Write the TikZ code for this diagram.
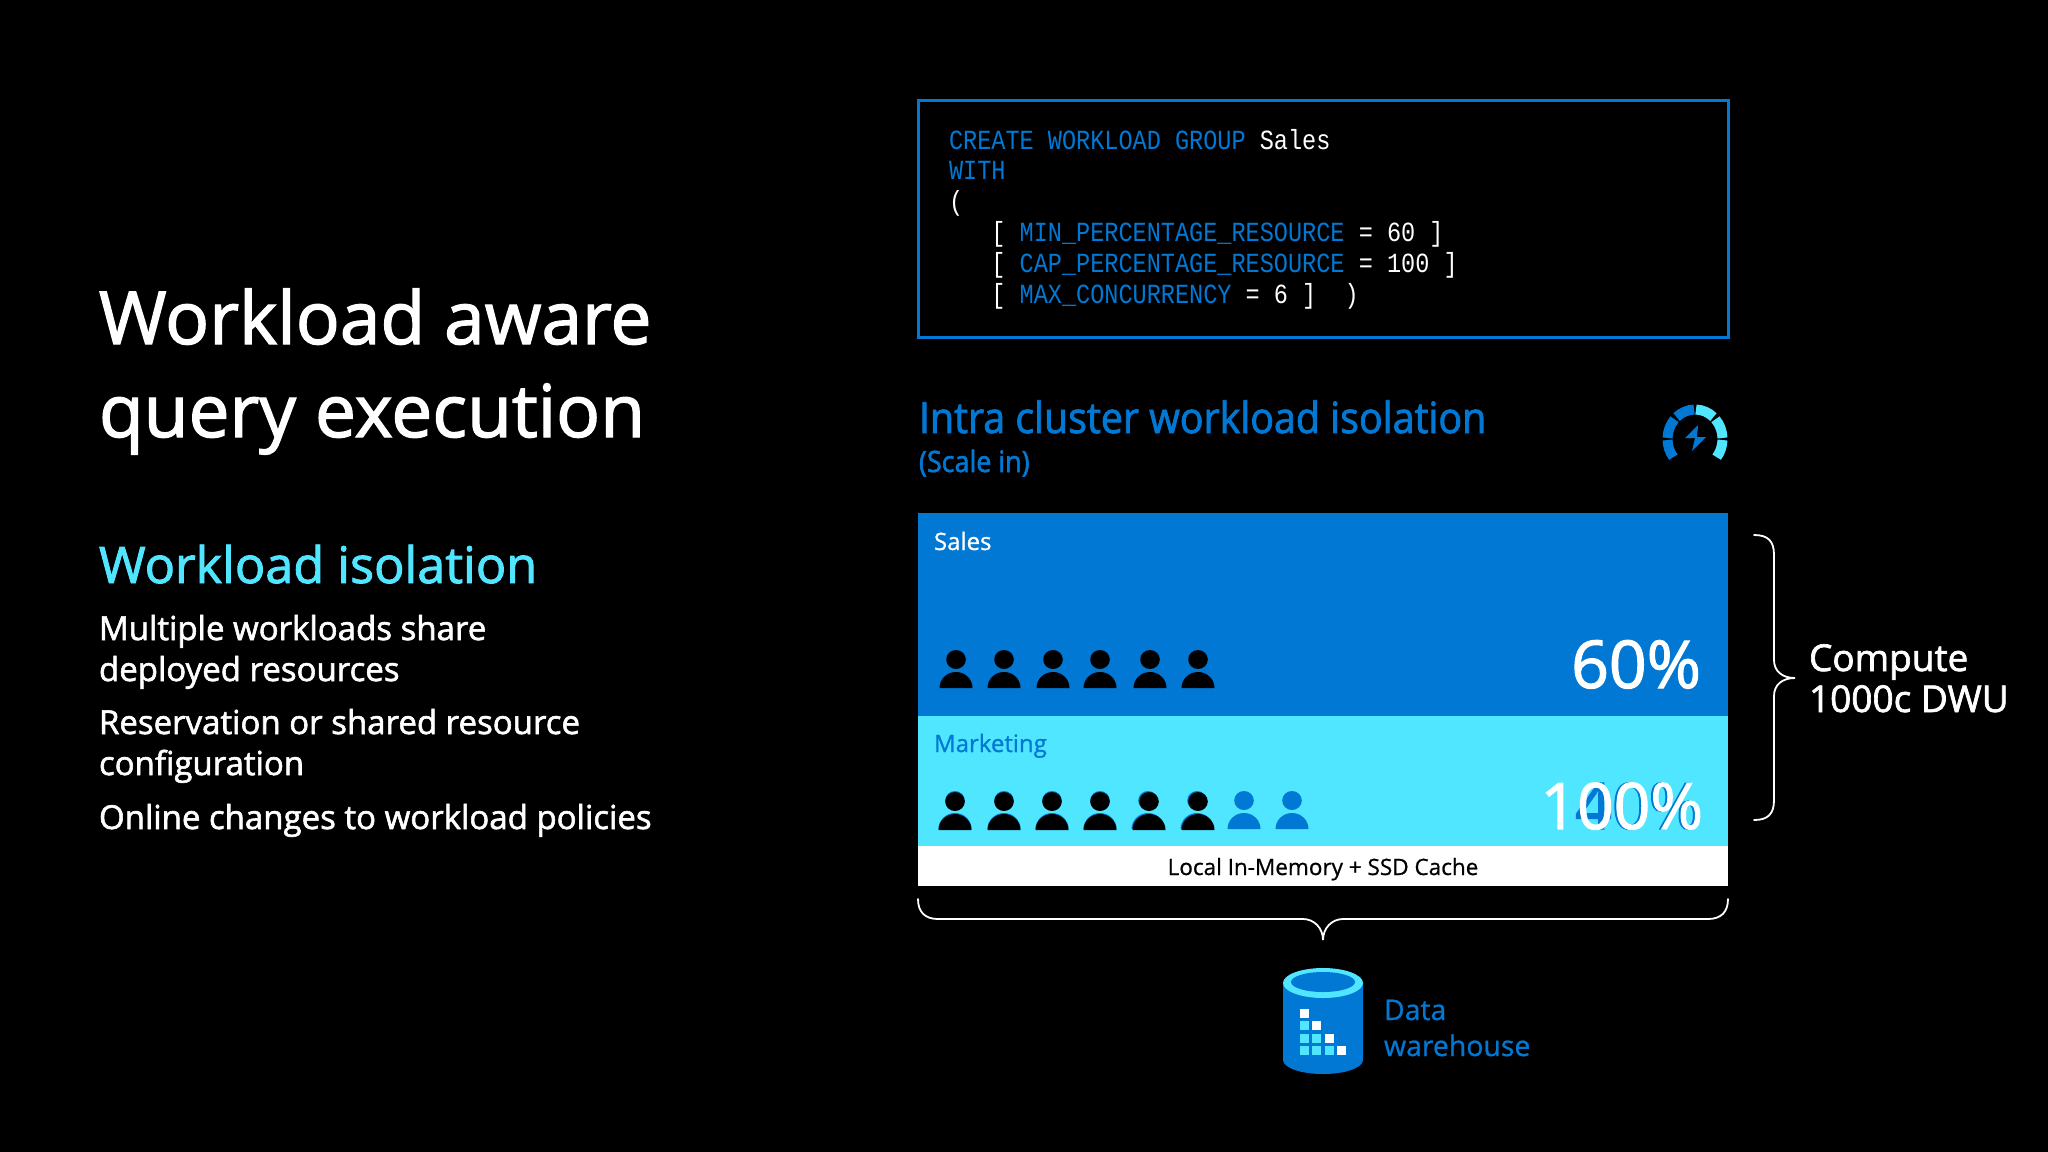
\documentclass[tikz,border=0pt]{standalone}
\usepackage{fontspec}
\setmainfont[FakeBold=0.8]{Open Sans}
\setmonofont[FakeStretch=0.85]{Liberation Mono}
\newfontfamily\semifont[FakeBold=1.8]{Open Sans}
\newfontfamily\headfont[FakeStretch=0.915,FakeBold=1.8]{Open Sans}
\usepackage{xcolor}
\usetikzlibrary{positioning}
\definecolor{msblue}{HTML}{0078D4}
\definecolor{mscyan}{HTML}{50E6FF}
\newcommand{\fsize}[1]{\fontsize{#1}{#1}\selectfont}
\newcommand{\kw}[1]{\textcolor{msblue}{#1}}
\newcommand{\ind}{\ \ \ }

\begin{document}
\begin{tikzpicture}[x=1pt,y=-1pt,
                    txt/.style={inner sep=0pt,outer sep=0pt,anchor=base west,text=white},
                    title text/.style={txt,font=\semifont\fsize{73}},
                    body text/.style={txt,font=\semifont\fsize{33}},
                    panel/.style={rectangle,inner sep=0pt,outer sep=0pt,minimum width=810pt},
                    pct/.style={inner sep=0pt,outer sep=0pt,anchor=base east,font=\semifont\fsize{64}},
                    brace/.style={draw=white,line width=1.8pt,line cap=round},
                    person/.pic={
                      \fill[pic actions] (0,-28.5) circle [x radius=9.8,y radius=9.5];
                      \fill[pic actions] (-16.5,0) arc [start angle=180,end angle=360,x radius=16.5,y radius=16] -- cycle;
                    }
                   ]
  \useasboundingbox (0,0) rectangle (2048,1151.5);
  \fill[black] (-2,-2) rectangle (2050,1155);

  % left column
  \node[title text] (title1) at (99,344) {Workload aware};
  \node[title text] (title2) at (99,437) {query execution};
  \node[txt,text=mscyan,font=\semifont\fsize{50.4}] (sub) at (99,583) {Workload isolation};
  \node[body text] (b1) at (99,640) {Multiple workloads share};
  \node[body text] (b2) at (99,681) {deployed resources};
  \node[body text] (b3) at (99,734) {Reservation or shared resource};
  \node[body text] (b4) at (99,775) {configuration};
  \node[body text] (b5) at (99,829) {Online changes to workload policies};

  % code box
  \draw[msblue,line width=3pt] (918,100) rectangle (1728,337);
  \node[inner sep=0pt,outer sep=0pt,anchor=base west,align=left,text=white,
        font=\ttfamily\fontsize{27.7}{30.8}\selectfont] (code) at (949,303)
    {\kw{CREATE WORKLOAD GROUP} Sales\\
     \kw{WITH}\\
     (\\
     \ind{}[ \kw{MIN\_PERCENTAGE\_RESOURCE} = 60 ]\\
     \ind{}[ \kw{CAP\_PERCENTAGE\_RESOURCE} = 100 ]\\
     \ind{}[ \kw{MAX\_CONCURRENCY} = 6 ]\ \ )};

  % heading and gauge
  \node[txt,text=msblue,font=\headfont\fsize{43}] (head) at (919,433) {Intra cluster workload isolation};
  \node[txt,text=msblue,font=\headfont\fsize{29.4}] (scale) at (919,472) {(Scale in)};
  \foreach \a/\b/\c in {-182/-218/msblue,-138/-178/msblue,-92/-132/msblue,-48/-88/mscyan,-2/-42/mscyan,2/38/mscyan}
    \draw[\c,line width=10pt] (1695,439) ++(\a:27.5 and 29.5) arc [start angle=\a,end angle=\b,x radius=27.5,y radius=29.5];
  \fill[msblue] (1698,425) -- (1685,438) -- (1695,438) -- (1692,451) -- (1706,437) -- (1697,437) -- cycle;

  % stacked panels
  \node[panel,fill=msblue,minimum height=203pt,anchor=north west] (sales) at (918,513) {};
  \node[panel,fill=mscyan,minimum height=130pt,below=0pt of sales] (mkt) {};
  \node[panel,fill=white,minimum height=40pt,below=0pt of mkt] (cache) {};
  \node[txt,font=\fsize{24}] (saleslbl) at (934,550) {Sales};
  \node[txt,text=msblue,font=\fsize{24}] (mktlbl) at (934,752) {Marketing};
  \node[inner sep=0pt,text=black,anchor=base,font=\fsize{22.5}] (cachelbl) at (1323,875) {Local In-Memory + SSD Cache};
  \node[pct,text=white,font=\semifont\fsize{66}] (p60) at (1701,688) {60\%};
  \node[pct,text=msblue] (p40) at (1701,829) {40\%};
  \node[pct,text=white] (p100) at (1703,829) {100\%};

  % people
  \foreach \x in {956,1004,1053,1100,1150,1198}
    \pic[black] at (\x,688) {person};
  \foreach \x in {955,1004,1052,1100,1148,1197,1244,1292}
    \pic[msblue] at (\x,829) {person};
  \foreach \x in {955,1004,1052,1100,1149,1198}
    \pic[black] at (\x,830) {person};

  % braces
  \draw[brace] (1754,535) .. controls (1768,535) and (1774,541) .. (1774,555) -- (1774,660)
    .. controls (1774,671) and (1782,678) .. (1795,678)
    .. controls (1782,678) and (1774,685) .. (1774,696) -- (1774,800)
    .. controls (1774,814) and (1768,820) .. (1754,820);
  \draw[brace] (918,899) .. controls (918,912) and (925,919) .. (938,919) -- (1303,919)
    .. controls (1314,919) and (1323,928) .. (1323,940)
    .. controls (1323,928) and (1332,919) .. (1343,919) -- (1708,919)
    .. controls (1721,919) and (1728,912) .. (1728,899);
  \node[txt,font=\semifont\fsize{37}] (compute) at (1809,671) {Compute};
  \node[txt,font=\semifont\fsize{37}] (dwu) at (1809,712) {1000c DWU};

  % data warehouse
  \fill[msblue] (1283,983) -- (1283,1060) arc [start angle=180,end angle=0,x radius=40,y radius=14] -- (1363,983) -- cycle;
  \fill[mscyan] (1323,983) circle [x radius=40,y radius=15];
  \fill[msblue] (1323,982) circle [x radius=32,y radius=10];
  \foreach \col/\row/\c in {0/0/white,0/1/mscyan,1/1/white,0/2/mscyan,1/2/mscyan,2/2/white,0/3/mscyan,1/3/mscyan,2/3/mscyan,3/3/white}
    \fill[\c] (1300+12.3*\col,1009+12.3*\row) rectangle ++(9,9);
  \node[txt,text=msblue,font=\fsize{28.4}] (dw1) at (1384,1020) {Data};
  \node[txt,text=msblue,font=\fsize{28.4}] (dw2) at (1384,1056) {warehouse};
\end{tikzpicture}
\end{document}
